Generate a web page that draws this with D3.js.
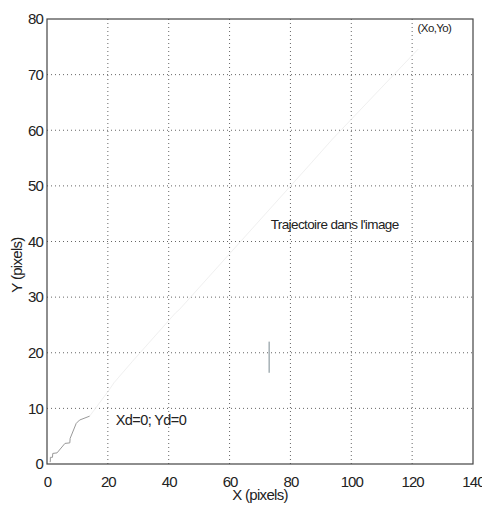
<!DOCTYPE html>
<html>
<head>
<meta charset="utf-8">
<script src="https://cdn.jsdelivr.net/npm/d3@7"></script>
<style>
  body { margin: 0; background: #fff; }
  text { font-family: "Liberation Sans", Arial, sans-serif; fill: #222; }
</style>
</head>
<body>
<svg id="chart" width="482" height="507"></svg>
<script>
// trajectoire (pixels)
var trajX = [0.9, 1.1, 1.1, 1.8, 1.9, 3.3, 5.9, 7.5, 7.6, 9.6, 10.7, 14.0];
var trajY = [0.4, 0.4, 1.2, 1.2, 1.9, 2.0, 3.7, 3.8, 4.6, 7.3, 7.9, 8.6];
// suite tres pale de la trajectoire
var suiteX = [14.0, 20.4, 22.0, 28.0, 42.3, 43.4, 86.0, 93.8, 122.0];
var suiteY = [8.6, 13.3, 14.6, 18.4, 27.2, 27.7, 53.6, 58.4, 74.6];
// petit segment vertical
var segX = [73, 73];
var segY = [16.4, 22.0];

var xTicks = [0, 20, 40, 60, 80, 100, 120, 140];
var yTicks = [0, 10, 20, 30, 40, 50, 60, 70, 80];

var notes = [
  {txt: "Trajectoire dans l'image", x: 73.5, y: 42.3, size: 13.5},
  {txt: "Xd=0; Yd=0", x: 22.6, y: 7.0, size: 14.5},
  {txt: "(Xo,Yo)", x: 121.8, y: 77.6, size: 11.5}
];

var svg = d3.select("#chart");
var mLeft = 47, mRight = 473, mTop = 19, mBottom = 464;

var x = d3.scaleLinear().domain([0, 140]).range([mLeft, mRight]);
var y = d3.scaleLinear().domain([0, 80]).range([mBottom, mTop]);

// grille pointillee
var grid = svg.append("g");
grid.selectAll("line.vx")
  .data(xTicks.slice(1, -1))
  .enter().append("line")
  .attr("x1", function(d) { return x(d); })
  .attr("x2", function(d) { return x(d); })
  .attr("y1", mTop).attr("y2", mBottom)
  .attr("stroke", "#666").attr("stroke-width", 1)
  .attr("stroke-dasharray", "1,3");
grid.selectAll("line.hy")
  .data(yTicks.slice(1, -1))
  .enter().append("line")
  .attr("y1", function(d) { return y(d); })
  .attr("y2", function(d) { return y(d); })
  .attr("x1", mLeft).attr("x2", mRight)
  .attr("stroke", "#666").attr("stroke-width", 1)
  .attr("stroke-dasharray", "1,3");

// axes
var xAxis = d3.axisBottom(x).tickValues(xTicks).tickSize(0).tickPadding(12);
var yAxis = d3.axisLeft(y).tickValues(yTicks).tickSize(0).tickPadding(4);

var gx = svg.append("g").attr("transform", "translate(0," + mBottom + ")").call(xAxis);
var gy = svg.append("g").attr("transform", "translate(" + mLeft + ",0)").call(yAxis);
gx.select(".domain").remove();
gy.select(".domain").remove();
svg.selectAll(".tick text")
  .attr("font-size", 15)
  .attr("font-family", "Liberation Sans, Arial, sans-serif")
  .attr("letter-spacing", -0.9)
  .attr("fill", "#222");

// cadre
svg.append("rect")
  .attr("x", mLeft).attr("y", mTop)
  .attr("width", mRight - mLeft).attr("height", mBottom - mTop)
  .attr("fill", "none").attr("stroke", "#444").attr("stroke-width", 1.2);

// courbes
var line = d3.line()
  .x(function(d) { return x(d[0]); })
  .y(function(d) { return y(d[1]); });

svg.append("path")
  .datum(d3.zip(suiteX, suiteY))
  .attr("d", line)
  .attr("fill", "none").attr("stroke", "#f0f0f0").attr("stroke-width", 1);

svg.append("path")
  .datum(d3.zip(trajX, trajY))
  .attr("d", line)
  .attr("fill", "none").attr("stroke", "#999").attr("stroke-width", 1);

svg.append("path")
  .datum(d3.zip(segX, segY))
  .attr("d", line)
  .attr("fill", "none").attr("stroke", "#7a8a90").attr("stroke-width", 1);

// annotations
svg.selectAll("text.note")
  .data(notes)
  .enter().append("text")
  .attr("class", "note")
  .attr("x", function(d) { return x(d.x); })
  .attr("y", function(d) { return y(d.y); })
  .attr("font-size", function(d) { return d.size; })
  .attr("letter-spacing", -0.6)
  .text(function(d) { return d.txt; });

// titres des axes
svg.append("text")
  .attr("x", (mLeft + mRight) / 2).attr("y", 500)
  .attr("text-anchor", "middle")
  .attr("font-size", 15).attr("letter-spacing", -0.7)
  .text("X (pixels)");

svg.append("text")
  .attr("transform", "translate(22,265) rotate(-90)")
  .attr("text-anchor", "middle")
  .attr("font-size", 15).attr("letter-spacing", -0.7)
  .text("Y (pixels)");
</script>
</body>
</html>
